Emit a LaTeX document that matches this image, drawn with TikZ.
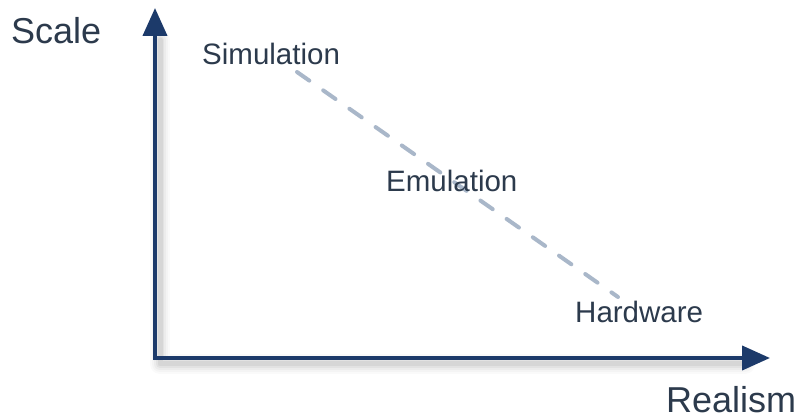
\documentclass[tikz,border=0pt]{standalone}
\usepackage{fontspec}
\setmainfont{Liberation Sans}
\usetikzlibrary{arrows.meta}
\definecolor{axisblue}{HTML}{1C3A6A}
\definecolor{dashgrey}{HTML}{A9B7C9}
\definecolor{textdark}{HTML}{2C3A4C}
\tikzset{
  axisline/.style={draw=axisblue, line width=4pt, line join=miter,
    {Triangle[length=28pt,width=24pt]}-{Triangle[length=28pt,width=24pt]}},
  shadowline/.style={draw=black, line join=round, line cap=round},
  trend/.style={draw=dashgrey, line width=4pt, line cap=round, dash pattern=on 15pt off 17pt},
  biglabel/.style={text=textdark, font=\fontsize{36}{40}\selectfont, inner sep=0pt, anchor=base west},
  smalllabel/.style={text=textdark, font=\fontsize{29.5}{33}\selectfont, inner sep=0pt, anchor=base west}
}
\begin{document}
\begin{tikzpicture}[x=1pt,y=-1pt]
\useasboundingbox (0,0) rectangle (803,419);
\fill[white] (0,0) rectangle (803,419);
% soft shadow
\foreach \w/\o in {20/0.02,16/0.025,12/0.03,8/0.04,5/0.05}{
  \draw[shadowline, line width=\w pt, opacity=\o] (160,40) -- (160,364) -- (745,364);
}
\coordinate (ytip) at (155,8);
\coordinate (origin) at (155,358);
\coordinate (xtip) at (770,358);
\draw[axisline] (ytip) -- (origin) -- (xtip);
\coordinate (tstart) at (297,72);
\coordinate (tend) at (618,297);
\draw[trend] (tstart) -- (tend);
\node[biglabel] (scale) at (11,44) {Scale};
\node[biglabel] (realism) at (666,412) {Realism};
\node[smalllabel] (sim) at (202,65) {Simulation};
\node[smalllabel] (emu) at (386,192) {Emulation};
\node[smalllabel] (hw) at (575,323) {Hardware};
\end{tikzpicture}
\end{document}
